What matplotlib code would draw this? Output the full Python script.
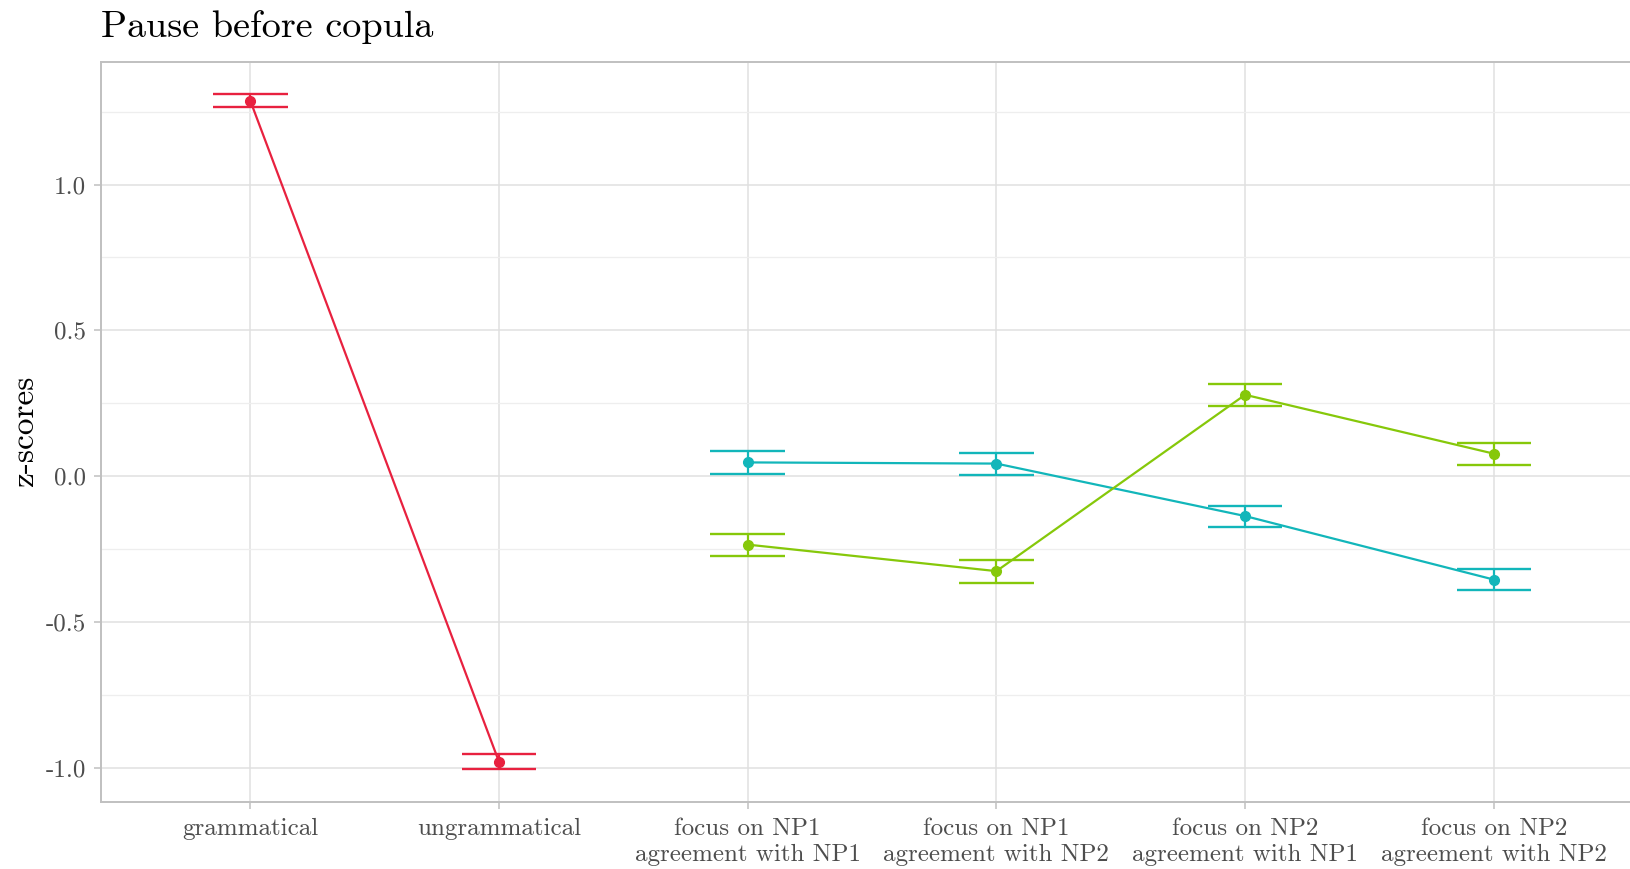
import matplotlib
matplotlib.use("Agg")
import matplotlib.pyplot as plt
import numpy as np

# Conditions along the x axis
categories = [
    "grammatical",
    "ungrammatical",
    "focus on NP1\nagreement with NP1",
    "focus on NP1\nagreement with NP2",
    "focus on NP2\nagreement with NP1",
    "focus on NP2\nagreement with NP2",
]

# Grammaticality series (first two conditions)
gram_x = [1, 2]
gram_mean = [1.288, -0.980]
gram_low = [1.266, -1.004]
gram_high = [1.311, -0.955]

# Focus conditions, cyan series
cyan_x = [3, 4, 5, 6]
cyan_mean = [0.047, 0.043, -0.137, -0.355]
cyan_low = [0.008, 0.005, -0.173, -0.391]
cyan_high = [0.087, 0.080, -0.101, -0.319]

# Focus conditions, green series
green_x = [3, 4, 5, 6]
green_mean = [-0.235, -0.326, 0.279, 0.077]
green_low = [-0.275, -0.365, 0.242, 0.039]
green_high = [-0.197, -0.289, 0.316, 0.115]

y_ticks = [-1.0, -0.5, 0.0, 0.5, 1.0]
y_ticklabels = ["-1.0", "-0.5", "0.0", "0.5", "1.0"]

RED = "#E8213F"
CYAN = "#12B6BA"
GREEN = "#86C80A"

plt.rcParams["font.family"] = ["cmr10", "DejaVu Serif"]
plt.rcParams["mathtext.fontset"] = "cm"

fig = plt.figure(figsize=(16.30, 8.69), dpi=100)
ax = fig.add_axes([0.062, 0.0771, 0.946, 0.852])

def draw_series(xs, mean, low, high, color):
    ax.plot(xs, mean, color=color, lw=1.6, zorder=3, solid_capstyle="butt")
    ax.vlines(xs, low, high, color=color, lw=1.6, zorder=3)
    xs_arr = np.asarray(xs, dtype=float)
    for lvl in (low, high):
        ax.hlines(lvl, xs_arr - 0.15, xs_arr + 0.15, color=color, lw=1.7, zorder=3)
    ax.plot(xs, mean, "o", color=color, ms=7.0, mec=color, zorder=4)

draw_series(gram_x, gram_mean, gram_low, gram_high, RED)
draw_series(cyan_x, cyan_mean, cyan_low, cyan_high, CYAN)
draw_series(green_x, green_mean, green_low, green_high, GREEN)

ax.set_xlim(0.4, 6.6)
ax.set_ylim(-1.118, 1.422)

ax.set_xticks(range(1, len(categories) + 1))
ax.set_xticklabels(categories, fontsize=18, color="#4D4D4D", linespacing=1.22)
ax.set_yticks(y_ticks)
ax.set_yticklabels(y_ticklabels, fontsize=18, color="#4D4D4D")
ax.set_yticks([-0.75, -0.25, 0.25, 0.75, 1.25], minor=True)

ax.grid(True, which="major", color="#E0E0E0", lw=1.1, zorder=0)
ax.grid(True, which="minor", axis="y", color="#EEEEEE", lw=0.9, zorder=0)
ax.set_axisbelow(True)

for sp in ax.spines.values():
    sp.set_color("#C0C0C0")
    sp.set_linewidth(1.4)

ax.tick_params(axis="both", which="major", color="#C0C0C0", length=5.2, width=1.1)
ax.tick_params(axis="x", which="major", pad=6)
ax.tick_params(axis="y", which="major", pad=5.5)
ax.tick_params(axis="both", which="minor", length=0)

ax.set_ylabel("z-scores", fontsize=24, color="black")
ax.yaxis.set_label_coords(-0.040, 0.5)

fig.text(0.062, 0.957, "Pause before copula", fontsize=27.5, color="black",
         ha="left", va="baseline")

fig.savefig("out.png", dpi=100, facecolor="white")
